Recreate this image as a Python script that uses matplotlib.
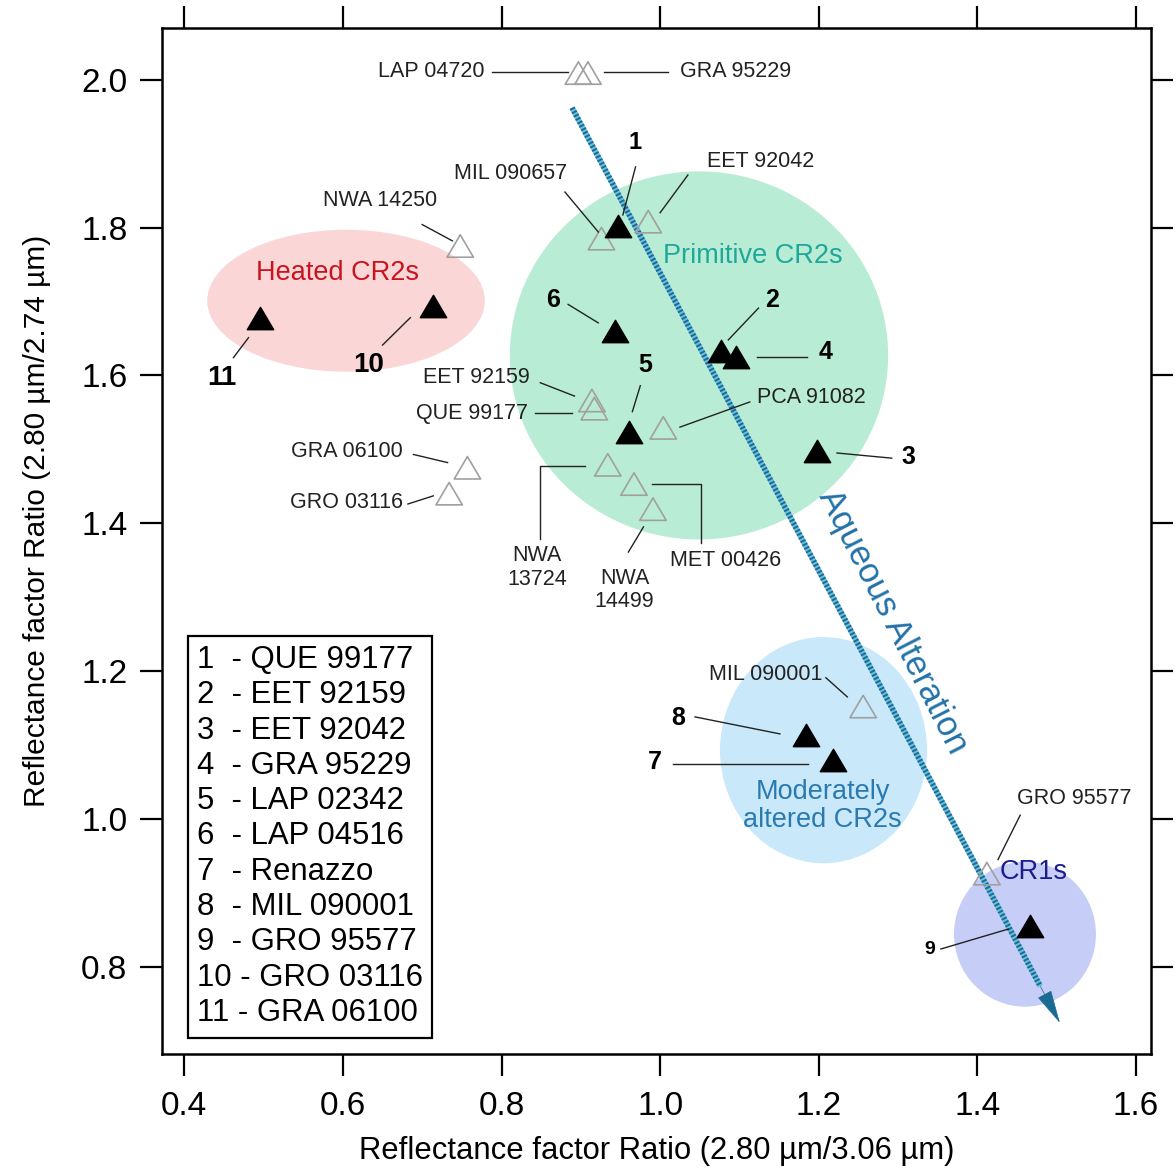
import matplotlib.pyplot as plt
from matplotlib.patches import Ellipse, Rectangle
from matplotlib.path import Path

plt.rcParams['font.family'] = ['Liberation Sans', 'DejaVu Sans']

# meteorites shown by number (filled triangles)
num_ids = ['1', '2', '3', '4', '5', '6', '7', '8', '9', '10', '11']
num_names = ['QUE 99177', 'EET 92159', 'EET 92042', 'GRA 95229', 'LAP 02342',
             'LAP 04516', 'Renazzo', 'MIL 090001', 'GRO 95577', 'GRO 03116',
             'GRA 06100']
num_x = [0.947, 1.077, 1.198, 1.096, 0.961, 0.943, 1.218, 1.184, 1.466, 0.713, 0.496]
num_y = [1.802, 1.633, 1.498, 1.625, 1.524, 1.660, 1.080, 1.114, 0.855, 1.694, 1.678]

# meteorites shown by name (open triangles)
open_names = ['LAP 04720', 'GRA 95229', 'MIL 090657', 'EET 92042', 'NWA 14250',
              'EET 92159', 'QUE 99177', 'PCA 91082', 'NWA\n13724', 'MET 00426',
              'NWA\n14499', 'GRA 06100', 'GRO 03116', 'MIL 090001', 'GRO 95577']
open_x = [0.897, 0.909, 0.926, 0.985, 0.748, 0.914, 0.917, 1.004, 0.934, 0.967,
          0.991, 0.757, 0.734, 1.256, 1.412]
open_y = [2.009, 2.009, 1.785, 1.808, 1.775, 1.566, 1.555, 1.529, 1.479, 1.453,
          1.419, 1.475, 1.440, 1.152, 0.926]

# label placement for the open triangles: text x, text y, alignment, leader line
open_tx = [0.779, 1.025, 0.811, 1.059, 0.647, 0.836, 0.834, 1.122, 0.845, 1.083,
           0.955, 0.676, 0.676, 1.204, 1.522]
open_ty = [2.011, 2.011, 1.873, 1.889, 1.836, 1.597, 1.549, 1.570, 1.340, 1.350,
           1.310, 1.497, 1.428, 1.195, 1.028]
open_ha = ['right', 'left', 'center', 'left', 'center', 'right', 'right', 'left',
           'center', 'center', 'center', 'right', 'right', 'right', 'center']
open_lines = [
    [(0.788, 2.010), (0.884, 2.010)],
    [(0.929, 2.010), (1.010, 2.010)],
    [(0.880, 1.848), (0.922, 1.794)],
    [(1.000, 1.820), (1.035, 1.871)],
    [(0.700, 1.804), (0.738, 1.782)],
    [(0.849, 1.590), (0.892, 1.572)],
    [(0.842, 1.549), (0.889, 1.549)],
    [(1.025, 1.530), (1.113, 1.564)],
    [(0.905, 1.478), (0.849, 1.478), (0.849, 1.378)],
    [(0.990, 1.453), (1.052, 1.453), (1.052, 1.373)],
    [(0.960, 1.361), (0.979, 1.395)],
    [(0.689, 1.493), (0.732, 1.482)],
    [(0.682, 1.426), (0.714, 1.437)],
    [(1.209, 1.191), (1.236, 1.165)],
    [(1.426, 0.945), (1.454, 1.005)],
]

# label placement for the numbered triangles
num_tx = [0.969, 1.141, 1.313, 1.208, 0.981, 0.865, 0.994, 1.023, 1.340, 0.632, 0.448]
num_ty = [1.915, 1.702, 1.490, 1.631, 1.614, 1.702, 1.077, 1.137, 0.823, 1.614, 1.597]
num_size = [17, 18, 18, 18, 18, 18, 18, 18, 14, 20, 20]
num_lines = [
    [(0.969, 1.882), (0.953, 1.817)],
    [(1.124, 1.691), (1.086, 1.648)],
    [(1.223, 1.495), (1.292, 1.488)],
    [(1.122, 1.625), (1.185, 1.625)],
    [(0.975, 1.586), (0.965, 1.551)],
    [(0.884, 1.696), (0.922, 1.671)],
    [(1.016, 1.074), (1.187, 1.074)],
    [(1.044, 1.138), (1.151, 1.115)],
    [(1.354, 0.824), (1.439, 0.851)],
    [(0.650, 1.641), (0.685, 1.678)],
    [(0.462, 1.624), (0.481, 1.651)],
]

# groups: centre, width, height, colours, label
grp_names = ['Heated CR2s', 'Primitive CR2s', 'Moderately\naltered CR2s', 'CR1s']
grp_cx = [0.604, 1.049, 1.206, 1.460]
grp_cy = [1.701, 1.627, 1.093, 0.844]
grp_w = [0.350, 0.477, 0.261, 0.179]
grp_h = [0.192, 0.498, 0.306, 0.196]
grp_fill = ['#fad6d6', '#b9ecd5', '#c9e8fa', '#c6cdf6']
grp_text_col = ['#c8141e', '#1fa89a', '#2a7ab0', '#1c1c8c']
grp_tx = [0.593, 1.117, 1.205, 1.471]
grp_ty = [1.739, 1.762, 1.018, 0.928]

# aqueous alteration trend
trend_start = (0.889, 1.962)
trend_end = (1.504, 0.724)

fig = plt.figure(figsize=(11.76, 11.69), dpi=100)
ax = fig.add_axes([0.1378, 0.0984, 0.8410, 0.8777])
ax.set_xlim(0.372, 1.619)
ax.set_ylim(0.682, 2.070)

for cx, cy, w, h, fc in zip(grp_cx, grp_cy, grp_w, grp_h, grp_fill):
    ax.add_patch(Ellipse((cx, cy), w, h, facecolor=fc, edgecolor='none', zorder=1))
for name, tx, ty, col in zip(grp_names, grp_tx, grp_ty, grp_text_col):
    ax.text(tx, ty, name, color=col, fontsize=19.5, ha='center', va='center',
            linespacing=1.1, zorder=2)

# dotted arrow
seg_x = [trend_start[0], trend_start[0] + 0.96 * (trend_end[0] - trend_start[0])]
seg_y = [trend_start[1], trend_start[1] + 0.96 * (trend_end[1] - trend_start[1])]
ax.plot(seg_x, seg_y, color='#6cc0de', lw=4.0, solid_capstyle='butt', zorder=3)
ax.plot(seg_x, seg_y, color='#1b6a94', lw=4.0, dashes=(0.35, 0.35),
        dash_capstyle='butt', zorder=3)
ax.annotate('', xy=trend_end, xytext=(seg_x[1], seg_y[1]),
            arrowprops=dict(arrowstyle='-|>,head_length=1.1,head_width=0.25',
                            mutation_scale=20, fc='#1b6a94', ec='#1b6a94', lw=0.5,
                            shrinkA=0, shrinkB=0), zorder=3)
ax.text(1.294, 1.267, 'Aqueous Alteration', color='#2272a8', fontsize=25,
        rotation=-63, rotation_mode='anchor', ha='center', va='center', zorder=3)

# triangle marker a bit wider than tall
tri = Path([(0, 0.85), (-1, -0.85), (1, -0.85), (0, 0.85)],
           [Path.MOVETO, Path.LINETO, Path.LINETO, Path.CLOSEPOLY])

ax.scatter(open_x, open_y, marker=tri, s=19 ** 2, facecolors='none',
           edgecolors='#a0a0a0', linewidths=1.2, zorder=4)
ax.scatter(num_x, num_y, marker=tri, s=19 ** 2, color='black', zorder=5)

for name, tx, ty, ha, pts in zip(open_names, open_tx, open_ty, open_ha, open_lines):
    ax.text(tx, ty, name, fontsize=15.5, ha=ha, va='center', color='#222222',
            linespacing=1.15, zorder=6)
    ax.plot([p[0] for p in pts], [p[1] for p in pts], color='#222222', lw=1.0, zorder=6)

for nid, tx, ty, fs, pts in zip(num_ids, num_tx, num_ty, num_size, num_lines):
    ax.text(tx, ty, nid, fontsize=fs, fontweight='bold', ha='center', va='center',
            zorder=6)
    ax.plot([p[0] for p in pts], [p[1] for p in pts], color='#222222', lw=1.0, zorder=6)

# key of numbered meteorites
ax.add_patch(Rectangle((0.0263, 0.0156), 0.2467, 0.3918, transform=ax.transAxes,
                       facecolor='white', edgecolor='black', lw=1.6, zorder=7))
for i, (nid, name) in enumerate(zip(num_ids, num_names)):
    pad = '  ' if len(nid) == 1 else ' '
    ax.text(0.0354, 0.384 - i * 0.0344, nid + pad + '- ' + name, fontsize=22.4,
            ha='left', va='center', transform=ax.transAxes, zorder=8)

ax.set_xticks([0.4, 0.6, 0.8, 1.0, 1.2, 1.4, 1.6])
ax.set_yticks([0.8, 1.0, 1.2, 1.4, 1.6, 1.8, 2.0])
ax.xaxis.set_major_formatter(plt.FormatStrFormatter('%.1f'))
ax.yaxis.set_major_formatter(plt.FormatStrFormatter('%.1f'))
ax.tick_params(direction='out', length=16, width=1.6, top=True, right=True,
               labelsize=24)
ax.tick_params(axis='x', pad=11)
ax.tick_params(axis='y', pad=9)
for sp in ax.spines.values():
    sp.set_linewidth(1.8)
ax.set_xlabel('Reflectance factor Ratio (2.80 µm/3.06 µm)', fontsize=22.3, labelpad=10)
ax.set_ylabel('Reflectance factor Ratio (2.80 µm/2.74 µm)', fontsize=21.5, labelpad=22,
              y=0.52)

fig.savefig('out.png', dpi=100)
